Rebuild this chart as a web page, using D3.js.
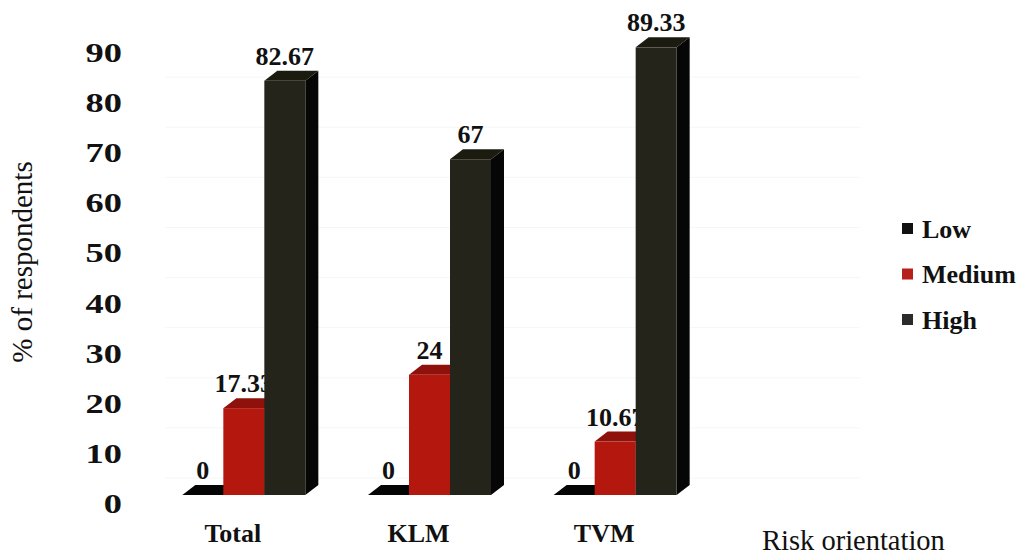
<!DOCTYPE html>
<html>
<head>
<meta charset="utf-8">
<script src="https://cdn.jsdelivr.net/npm/d3@7/dist/d3.min.js"></script>
<style>
  html, body { margin: 0; padding: 0; background: #ffffff; }
  svg { display: block; }
  text { font-family: "Liberation Serif", "Times New Roman", serif; fill: #111; }
</style>
</head>
<body>
<svg id="chart" width="1022" height="557"></svg>
<script>
// Risk orientation of respondents, by location
const categories = ["Total", "KLM", "TVM"];
const seriesNames = ["Low", "Medium", "High"];
const lowValues = [0, 0, 0];
const mediumValues = [17.33, 24, 10.67];
const highValues = [82.67, 67, 89.33];
const yTicks = [0, 10, 20, 30, 40, 50, 60, 70, 80, 90];

const seriesValues = { Low: lowValues, Medium: mediumValues, High: highValues };

// face colours for each series: front, top, side
const faceColors = {
  Low:    { front: "#0b0b0b", top: "#050505", side: "#000000", key: "#111111" },
  Medium: { front: "#b3170e", top: "#8e110b", side: "#5e0b07", key: "#b5201a" },
  High:   { front: "#25241a", top: "#1b1b10", side: "#060606", key: "#2b2b2b" }
};

const svg = d3.select("#chart");

// 3D depth offsets
const depthX = 13, depthY = 10;

const y = d3.scaleLinear().domain([0, 90]).range([495, 44]);
const x = d3.scaleBand().domain(categories).range([151, 708]).padding(0);
const xs = d3.scaleBand().domain(seriesNames).range([-61.5, 61.5]).padding(0);

// very faint back-wall gridlines
const wallShift = 17;
svg.append("g")
  .selectAll("line")
  .data(yTicks.filter(t => t < 90))
  .join("line")
  .attr("x1", 165).attr("x2", 860)
  .attr("y1", d => y(d) - wallShift)
  .attr("y2", d => y(d) - wallShift)
  .attr("stroke", "#f6f6f6")
  .attr("stroke-width", 1);

// value axis labels (slightly widened bold digits)
const yAxis = d3.axisLeft(y).tickValues(yTicks).tickSize(0).tickPadding(0);
const yAxisG = svg.append("g")
  .attr("transform", "translate(122,8)")
  .call(yAxis);
yAxisG.select(".domain").remove();
yAxisG.selectAll("text")
  .attr("font-family", "Liberation Serif, serif")
  .attr("font-weight", "bold")
  .attr("font-size", 28)
  .attr("fill", "#111")
  .attr("dy", "0.34em")
  .attr("x", 0)
  .attr("transform", "scale(1.3,1)");

// y-axis title
svg.append("text")
  .attr("transform", "translate(32,262) rotate(-90)")
  .attr("text-anchor", "middle")
  .attr("font-size", 29)
  .attr("fill", "#222")
  .text("% of respondents");

// bars, series by series so later series overlap earlier labels
seriesNames.forEach(s => {
  const g = svg.append("g").attr("class", "series-" + s);
  const w = xs.bandwidth();
  const rows = categories.map((c, i) => ({ c, v: seriesValues[s][i] }));
  const bar = g.selectAll("g.bar").data(rows).join("g").attr("class", "bar");

  bar.each(function(d) {
    const gx = x(d.c) + x.bandwidth() / 2 + xs(s);
    const yt = y(d.v), yb = y(0);
    const el = d3.select(this);
    const col = faceColors[s];
    // side face
    el.append("path")
      .attr("d", `M${gx + w},${yb} L${gx + w + depthX},${yb - depthY} L${gx + w + depthX},${yt - depthY} L${gx + w},${yt} Z`)
      .attr("fill", col.side);
    // top face
    el.append("path")
      .attr("d", `M${gx},${yt} L${gx + depthX},${yt - depthY} L${gx + w + depthX},${yt - depthY} L${gx + w},${yt} Z`)
      .attr("fill", col.top);
    // front face
    if (yb - yt > 0) {
      el.append("rect")
        .attr("x", gx).attr("y", yt)
        .attr("width", w).attr("height", yb - yt)
        .attr("fill", col.front);
    }
    // value label
    el.append("text")
      .attr("x", gx + w / 2)
      .attr("y", yt - 16)
      .attr("text-anchor", "middle")
      .attr("font-weight", "bold")
      .attr("font-size", 26)
      .attr("fill", "#111")
      .text(d.v);
  });
});

// category labels
svg.append("g")
  .selectAll("text")
  .data(categories)
  .join("text")
  .attr("x", d => x(d) + x.bandwidth() / 2 - 11)
  .attr("y", 542)
  .attr("text-anchor", "middle")
  .attr("font-weight", "bold")
  .attr("font-size", 26)
  .text(d => d);

// category axis title
svg.append("text")
  .attr("x", 762)
  .attr("y", 550)
  .attr("font-size", 28.5)
  .attr("fill", "#222")
  .text("Risk orientation");

// legend
const legend = svg.append("g").attr("transform", "translate(902,229)");
const li = legend.selectAll("g").data(seriesNames).join("g")
  .attr("transform", (d, i) => `translate(0,${i * 45.5})`);
li.append("rect")
  .attr("x", 0).attr("y", -6)
  .attr("width", 11).attr("height", 11)
  .attr("fill", d => faceColors[d].key);
li.append("text")
  .attr("x", 20).attr("y", 0)
  .attr("dy", "0.34em")
  .attr("font-weight", "bold")
  .attr("font-size", 26)
  .text(d => d);
</script>
</body>
</html>
